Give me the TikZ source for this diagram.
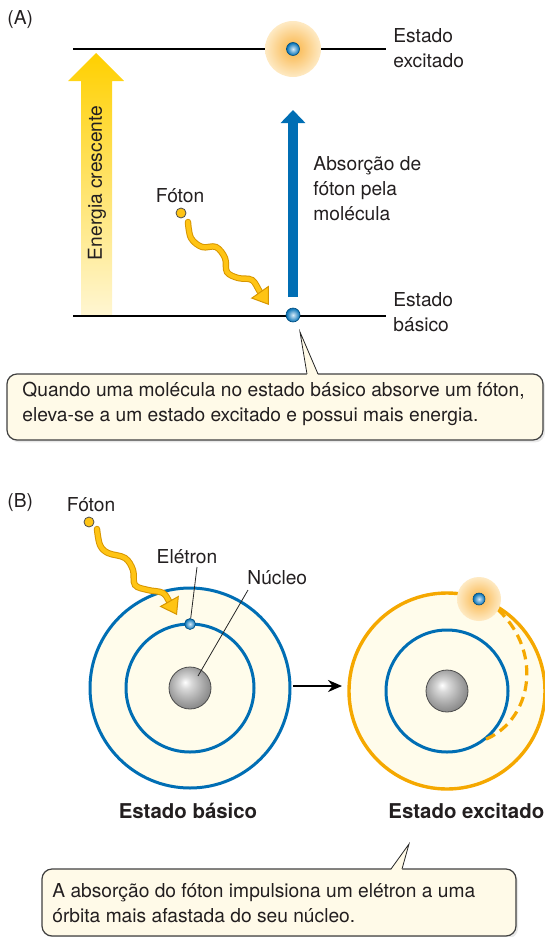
\documentclass[tikz,border=0pt]{standalone}
\usepackage{fontspec}
\setmainfont{TeX Gyre Heros}
\usetikzlibrary{arrows.meta,shadows}
\definecolor{txt}{RGB}{35,31,32}
\definecolor{elblue}{RGB}{0,110,180}
\definecolor{elhigh}{RGB}{215,235,248}
\definecolor{ringorange}{RGB}{245,168,0}
\definecolor{gold}{RGB}{255,208,0}
\definecolor{paleyellow}{RGB}{255,246,210}
\definecolor{photon}{RGB}{255,196,20}
\definecolor{photonedge}{RGB}{215,150,0}
\definecolor{cream}{RGB}{255,252,235}
\definecolor{notefill}{RGB}{255,250,232}
\definecolor{glowin}{RGB}{249,180,70}
\definecolor{glowout}{RGB}{254,234,196}
\pgfdeclareradialshading{nucshade}{\pgfpoint{-6bp}{7bp}}{%
  color(0bp)=(white); color(7bp)=(black!15); color(20bp)=(black!35);
  color(27bp)=(black!45); color(50bp)=(black!45)}

\begin{document}
\begin{tikzpicture}[x=0.5pt,y=-0.5pt,
  font=\fontsize{9.6}{12.4}\selectfont, text=txt,
  lbl/.style={anchor=base west, align=left, inner sep=0},
  level/.style={line width=1.2pt, black},
  orbit/.style={line width=1.5pt, elblue},
  electron/.style={circle, inner sep=0, draw=elblue!70!black, line width=0.3pt,
    inner color=elhigh, outer color=elblue},
  nucleus/.style={circle, inner sep=0, minimum size=21pt, draw=black!70, line width=0.4pt,
    shading=nucshade},
  photondot/.style={circle, inner sep=0, minimum size=5pt, fill=photon, draw=black!70, line width=0.4pt},
  wave/.style={line width=3.2pt, photonedge, line cap=round},
  wavein/.style={line width=2.2pt, photon, line cap=round,
    -{Triangle[length=8pt, width=11pt, fill=photon, color=photonedge, line width=0.5pt]}},
  pointer/.style={line width=0.4pt, black!85},
  notebox/.style={draw=black!75, line width=0.6pt, fill=notefill, rounded corners=5pt,
    drop shadow={shadow xshift=1pt, shadow yshift=-1.2pt, opacity=0.18}},
  bigstate/.style={font=\fontsize{10.2}{12}\selectfont\bfseries, inner sep=0}]
\useasboundingbox (0,0) rectangle (545,937);

% ---------- (A) energy levels ----------
\node[anchor=west, inner sep=0] (labA) at (7,20) {(A)};

% energy arrow on the left
\shade[top color=gold, bottom color=paleyellow]
  (81,315) -- (112,315) -- (112,81) -- (124,81) -- (96,53) -- (68,81) -- (81,81) -- cycle;
\node[rotate=90, inner sep=0] (energy) at (97,183) {Energia crescente};

% the two levels
\draw[level] (73,49) -- (386,49);
\draw[level] (73,316) -- (386,316);
\node[lbl] (exc) at (393,67) {Estado\\excitado};
\node[lbl] (bas) at (393,331) {Estado\\básico};

% excited molecule with glow
\shade[inner color=glowin, outer color=glowout] (293,49) circle (28);
\node[electron, minimum size=6.5pt] (e2) at (293,49) {};
\node[electron, minimum size=7pt] (e1) at (293,315) {};

% absorption arrow
\coordinate (absbot) at (293,297);
\coordinate (abstop) at (293,110);
\draw[line width=4.6pt, elblue, -{Triangle[length=6.5pt, width=12pt]}] (absbot) -- (abstop);
\node[lbl] (abs) at (313,220) {Absorção de\\fóton pela\\molécula};

% incoming photon
\node[inner sep=0, anchor=base] (fotA) at (180,202) {Fóton};
\node[photondot] (pA) at (181,213) {};
\draw[wave, shorten >=7pt] plot[smooth, tension=0.6] coordinates
  {(188,222) (191,238) (202,247) (216,247) (225,258) (227,272) (238,278) (252,280) (260,292) (269,305)};
\draw[wavein] plot[smooth, tension=0.6] coordinates
  {(188,222) (191,238) (202,247) (216,247) (225,258) (227,272) (238,278) (252,280) (260,292) (269,305)};

% note
\draw[notebox] (7,374) rectangle (543,440);
\fill[notefill] (307,375) -- (300,332) -- (318,375) -- cycle;
\draw[pointer] (307,374) -- (300,332) -- (318,374);
\node[lbl] (noteA) at (22,421)
  {Quando uma molécula no estado básico absorve um fóton,\\eleva-se a um estado excitado e possui mais energia.};

% ---------- (B) atom picture ----------
\node[anchor=west, inner sep=0] (labB) at (7,503) {(B)};

% ground state atom
\filldraw[orbit, fill=cream] (190,688) circle (100);
\draw[orbit] (190,688) circle (64);
\node[inner sep=0, anchor=base] (eltxt) at (187,563) {Elétron};
\node[inner sep=0, anchor=base west] (nutxt) at (247,584) {Núcleo};
\node[nucleus] (n1) at (190,688) {};
\draw[pointer] (248,590) -- (198,676);
\node[electron, minimum size=5.5pt] (eb) at (190,624) {};
\draw[pointer] (197,567) -- (eb);

% photon coming in
\node[inner sep=0, anchor=base] (fotB) at (91,511) {Fóton};
\node[photondot] (pB) at (89,522) {};
\draw[wave, shorten >=7pt] plot[smooth, tension=0.6] coordinates
  {(97,529) (100,545) (108,553) (125,558) (133,570) (135,585) (148,590) (163,593) (170,603) (177,615)};
\draw[wavein] plot[smooth, tension=0.6] coordinates
  {(97,529) (100,545) (108,553) (125,558) (133,570) (135,585) (148,590) (163,593) (170,603) (177,615)};

% transition
\coordinate (tfrom) at (293,686);
\coordinate (tto) at (342,686);
\draw[line width=1pt, -{Stealth[length=7pt, width=6pt]}] (tfrom) -- (tto);

% excited atom
\filldraw[line width=1.7pt, ringorange, fill=cream] (447,691) circle (98);
\draw[orbit] (447,691) circle (61);
\node[nucleus] (n2) at (447,691) {};
\draw[line width=1.6pt, ringorange, dash pattern=on 5pt off 3pt]
  plot[domain=58:-54, samples=40, variable=\t]
  ({447+(61+35*(\t+54)/112)*cos(\t)}, {691-(61+35*(\t+54)/112)*sin(\t)});
\shade[inner color=glowin, outer color=glowout] (479,599) circle (22);
\node[electron, minimum size=6pt] (ex) at (479,599) {};

\node[bigstate, anchor=base] (gs) at (188,818) {Estado básico};
\node[bigstate, anchor=base west] (es) at (388,818) {Estado excitado};

% note
\draw[notebox] (42,869) rectangle (516,936);
\fill[notefill] (391,870) -- (409,844) -- (402,870) -- cycle;
\draw[pointer] (391,869) -- (409,844) -- (402,869);
\node[lbl] (noteB) at (52,922)
  {A absorção do fóton impulsiona um elétron a uma\\órbita mais afastada do seu núcleo.};
\end{tikzpicture}
\end{document}
